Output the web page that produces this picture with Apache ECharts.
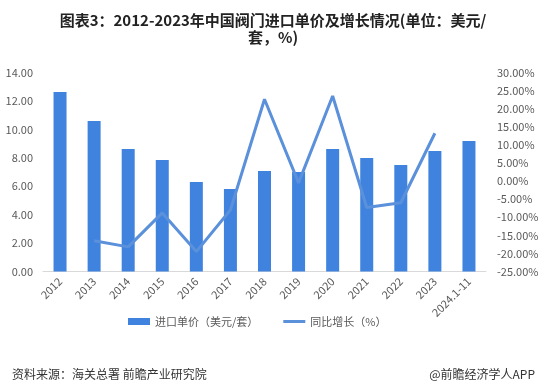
<!DOCTYPE html>
<html>
<head>
<meta charset="utf-8">
<script src="https://cdn.jsdelivr.net/npm/echarts@6/dist/echarts.min.js"></script>
<style>
html,body{margin:0;padding:0;background:#fff;}
#chart{width:546px;height:391px;}
</style>
</head>
<body>
<div id="chart"></div>
<script>
var categories = ['2012','2013','2014','2015','2016','2017','2018','2019','2020','2021','2022','2023','2024.1-11'];
var unitPrice = [12.63, 10.59, 8.62, 7.85, 6.30, 5.81, 7.07, 7.00, 8.62, 7.99, 7.49, 8.48, 9.18];
var yoyGrowth = [null, -16.5, -18.2, -8.8, -19.5, -8.0, 22.6, -0.5, 23.5, -7.3, -6.0, 13.2, null];
var titleText = '图表3：2012-2023年中国阀门进口单价及增长情况(单位：美元/\n套，%)';
var sourceText = '资料来源：海关总署 前瞻产业研究院';
var brandText = '@前瞻经济学人APP';
var seriesNames = ['进口单价（美元/套）', '同比增长（%）'];

var FONT = '"Noto Sans CJK SC", "Noto Sans", sans-serif';
var chart = echarts.init(document.getElementById('chart'), null, {renderer:'canvas'});
chart.setOption({
  backgroundColor: '#ffffff',
  animation: false,
  textStyle: {fontFamily: FONT},
  title: [
    {text: titleText, left: 'center', top: 7,
     textStyle: {fontFamily: FONT, fontSize: 15, fontWeight: 'bold', color: '#222', lineHeight: 17}},
    {text: sourceText, left: 7, top: 363,
     textStyle: {fontFamily: FONT, fontSize: 12, fontWeight: 'normal', color: '#333'}},
    {text: brandText, right: 6, top: 363,
     textStyle: {fontFamily: FONT, fontSize: 12, fontWeight: 'normal', color: '#333'}}
  ],
  legend: {
    left: 123, top: 311,
    itemWidth: 22, itemHeight: 7, itemGap: 25,
    textStyle: {fontFamily: FONT, fontSize: 11, color: '#595959'},
    data: [
      {name: seriesNames[0], icon: 'rect'},
      {name: seriesNames[1], icon: 'path://M0,0L0.01,0L0.01,7L0,7Z M0,2L22,2L22,5L0,5Z',
       itemStyle: {color: '#5B90DB'}}
    ]
  },
  grid: {left: 43, right: 60, top: 72.5, bottom: 391 - 271.5, containLabel: false},
  xAxis: {
    type: 'category', data: categories,
    axisLine: {show: true, lineStyle: {color: '#d9d9d9', width: 1}},
    axisTick: {show: false},
    axisLabel: {rotate: 45, fontSize: 11, color: '#595959', margin: 8, interval: 0, fontFamily: FONT}
  },
  yAxis: [
    {type: 'value', min: 0, max: 14, interval: 2,
     axisLine: {show: false}, axisTick: {show: false}, splitLine: {show: false},
     axisLabel: {fontSize: 11, color: '#595959', margin: 10, fontFamily: FONT,
       formatter: function(v){return v.toFixed(2);}}},
    {type: 'value', min: -25, max: 30, interval: 5, position: 'right',
     axisLine: {show: false}, axisTick: {show: false}, splitLine: {show: false},
     axisLabel: {fontSize: 11, color: '#595959', margin: 11, fontFamily: FONT,
       formatter: function(v){return v.toFixed(2) + '%';}}}
  ],
  series: [
    {name: seriesNames[0], type: 'bar', data: unitPrice, barWidth: 13, yAxisIndex: 0,
     itemStyle: {color: '#3F83DF'}},
    {name: seriesNames[1], type: 'line', data: yoyGrowth, yAxisIndex: 1,
     symbol: 'none', showSymbol: false, connectNulls: false,
     lineStyle: {color: '#5B90DB', width: 3}, itemStyle: {color: '#5B90DB'}}
  ]
});
</script>
</body>
</html>
